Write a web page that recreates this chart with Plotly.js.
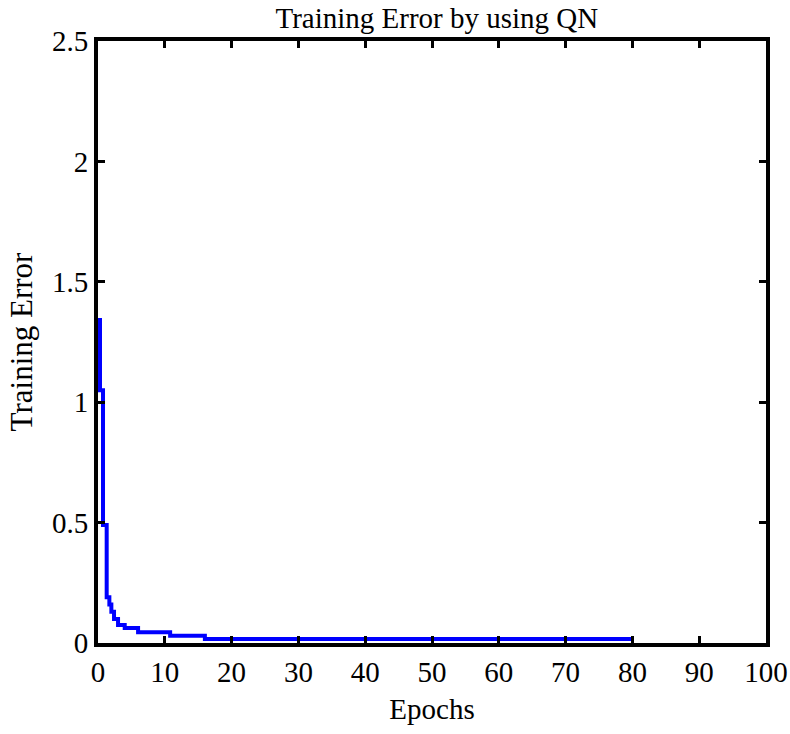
<!DOCTYPE html>
<html>
<head>
<meta charset="utf-8">
<script src="https://cdn.plot.ly/plotly-3.0.1.min.js"></script>
<style>
  html, body { margin: 0; padding: 0; background: #fff; }
  #chart { width: 790px; height: 734px; }
</style>
</head>
<body>
<div id="chart"></div>
<script>
// --- Training error per epoch ---
const epochs = [0.3, 0.75, 1.3, 1.7, 2.0, 2.4, 3.0, 4.0, 6.0, 10.8, 16, 80];
const trainingError = [1.35, 1.05, 0.49, 0.19, 0.16, 0.13, 0.10, 0.075, 0.062, 0.045, 0.03, 0.017];

const xTicks = [0, 10, 20, 30, 40, 50, 60, 70, 80, 90, 100];
const yTicks = [0, 0.5, 1, 1.5, 2, 2.5];
const yTickLabels = ['0', '0.5', '1', '1.5', '2', '2.5'];

const serif = 'Liberation Serif, Times New Roman, serif';

const trace = {
    x: epochs,
    y: trainingError,
    type: 'scatter',
    mode: 'lines',
    line: { color: '#0000ff', width: 4, shape: 'vh' },
    showlegend: false
};

const axisStyle = {
    showline: true,
    linecolor: '#000',
    linewidth: 4,
    mirror: 'ticks',
    ticks: 'inside',
    ticklen: 7,
    tickwidth: 3,
    tickcolor: '#000',
    showgrid: false,
    zeroline: false,
    tickfont: { family: serif, size: 29, color: '#000' }
};

const layout = {
    width: 790,
    height: 734,
    margin: { l: 98, r: 24, t: 41, b: 91 },
    paper_bgcolor: '#fff',
    plot_bgcolor: '#fff',
    title: {
        text: 'Training Error by using QN',
        font: { family: serif, size: 29, color: '#000' },
        x: 0.553,
        xanchor: 'center',
        y: 0.976,
        yanchor: 'middle'
    },
    xaxis: Object.assign({}, axisStyle, {
        range: [0, 100],
        tickvals: xTicks,
        title: { text: 'Epochs', font: { family: serif, size: 29, color: '#000' }, standoff: 13 }
    }),
    yaxis: Object.assign({}, axisStyle, {
        range: [0, 2.5],
        tickvals: yTicks,
        ticktext: yTickLabels,
        title: { text: 'Training Error', font: { family: serif, size: 31, color: '#000' }, standoff: 11 }
    })
};

Plotly.newPlot('chart', [trace], layout, { staticPlot: true });
</script>
</body>
</html>
